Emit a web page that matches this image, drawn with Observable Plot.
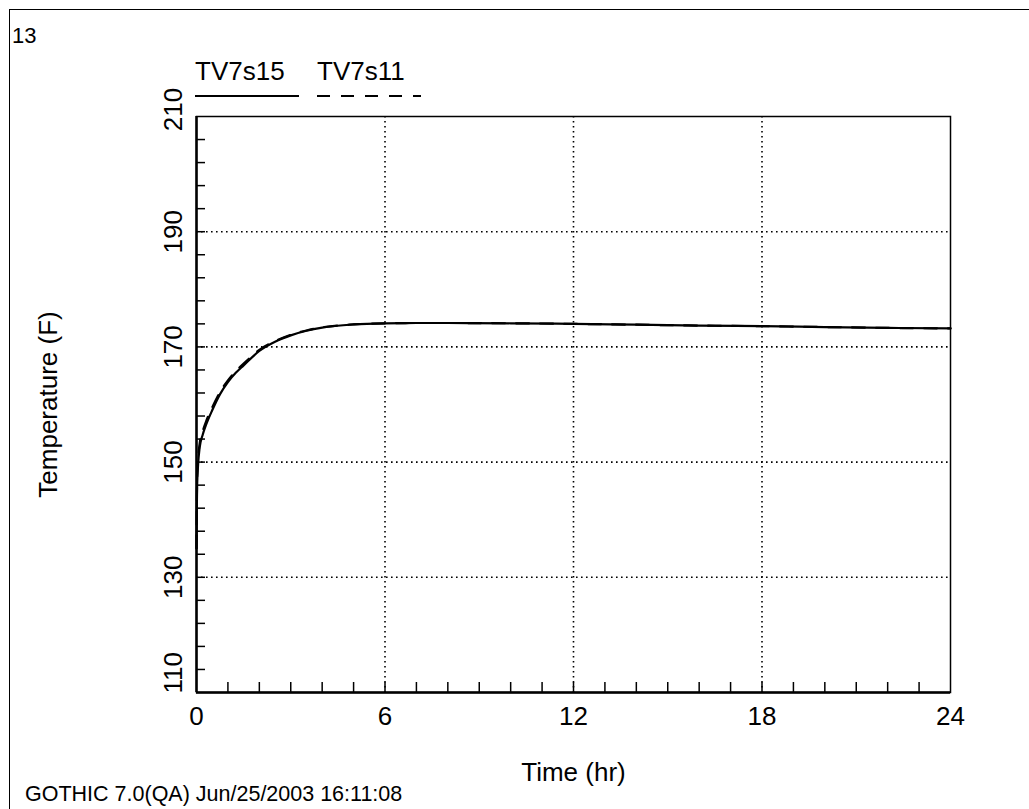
<!DOCTYPE html>
<html>
<head>
<meta charset="utf-8">
<script src="https://cdn.jsdelivr.net/npm/d3@7"></script>
<script src="https://cdn.jsdelivr.net/npm/@observablehq/plot@0.6"></script>
<style>
  html, body { margin: 0; padding: 0; background: #fff; overflow: hidden; }
  #wrap { position: relative; width: 1029px; height: 809px; overflow: hidden; font-family: "Liberation Sans", Arial, sans-serif; color: #000; }
  #chart { position: absolute; left: 0; top: 0; }
  #frame { position: absolute; left: 9px; top: 9px; width: 1040px; height: 820px; border-left: 1.5px solid #000; border-top: 1.5px solid #000; z-index: 2; }
  .ov { position: absolute; z-index: 3; white-space: nowrap; line-height: 1; }
  #legend { position: absolute; left: 0; top: 0; z-index: 3; }
</style>
</head>
<body>
<div id="wrap">
  <div id="chart"></div>
  <div id="frame"></div>
  <div class="ov" id="pagenum" style="left:12px; top:25px; font-size:22px;"></div>
  <svg id="legend" width="1029" height="120"></svg>
  <div class="ov" id="footer" style="left:25px; top:784px; font-size:21.5px;"></div>
</div>
<script>
// ---- data ----
const pageLabel = "13";
const footerText = "GOTHIC 7.0(QA) Jun/25/2003 16:11:08";
const xLabel = "Time (hr)";
const yLabel = "Temperature (F)";
const seriesNames = ["TV7s15", "TV7s11"];

const timeHr = [0, 0.01, 0.02, 0.05, 0.1, 0.2, 0.3, 0.5, 0.75, 1.0, 1.25, 1.5, 2.0, 2.5, 3.0, 3.5, 4.0, 5.0, 6.0, 7.0, 8.0, 10.0, 12.0, 14.0, 16.0, 18.0, 20.0, 22.0, 24.0];
const tv7s15 = [135, 142, 146, 149.5, 152.5, 154.8, 156.4, 159.0, 161.8, 163.9, 165.5, 166.8, 169.3, 170.9, 172.0, 172.8, 173.35, 173.9, 174.1, 174.15, 174.15, 174.1, 174.0, 173.85, 173.7, 173.6, 173.45, 173.3, 173.2];
const tv7s11 = [135, 143, 147, 150.4, 153.2, 155.4, 157.0, 159.5, 162.2, 164.2, 165.8, 167.1, 169.5, 171.0, 172.1, 172.85, 173.4, 173.9, 174.1, 174.15, 174.15, 174.1, 174.0, 173.85, 173.7, 173.6, 173.45, 173.3, 173.2];

const xMajorTicks = [0, 6, 12, 18, 24];
const xMinorTicks = d3.range(1, 24, 1);
const xGrid = [6, 12, 18];
const yMajorTicks = [110, 130, 150, 170, 190, 210];
const yMinorTicks = d3.range(114, 210, 4);
const yGrid = [130, 150, 170, 190];

// ---- build tables ----
const rows = timeHr.map((t, i) => ({t, v: tv7s15[i], s: seriesNames[0]}));
const rows2 = timeHr.map((t, i) => ({t, v: tv7s11[i], s: seriesNames[1]}));

const font = "Liberation Sans, Arial, sans-serif";
const dotted = {stroke: "#000", strokeWidth: 1.6, strokeDasharray: "1.6,3.4"};
const FS = 26;

const plot = Plot.plot({
  width: 1029,
  height: 809,
  marginLeft: 196,
  marginRight: 79,
  marginTop: 116,
  marginBottom: 117,
  style: {fontFamily: font, background: "transparent", color: "#000"},
  x: {domain: [0, 24], label: null},
  y: {domain: [110, 210], label: null},
  marks: [
    Plot.ruleX(xGrid, dotted),
    Plot.ruleY(yGrid, dotted),
    Plot.frame({stroke: "#000", strokeWidth: 1.5}),
    Plot.axisX({ticks: xMinorTicks, tickSize: -10, tickFormat: () => "", label: null, strokeWidth: 1.5}),
    Plot.axisY({ticks: yMinorTicks, tickSize: -9, tickFormat: () => "", label: null, strokeWidth: 1.5}),
    Plot.axisX({ticks: xMajorTicks, tickSize: 0, tickPadding: 14, fontSize: FS, label: null, tickFormat: d => String(d)}),
    Plot.text(yMajorTicks.filter(d => d !== 110 && d !== 210), {y: d => d, frameAnchor: "left", dx: -23, rotate: -90, text: d => String(d), fontSize: FS, textAnchor: "middle", lineAnchor: "middle"}),
    Plot.text([210], {y: d => d, frameAnchor: "left", dx: -23, dy: -7, rotate: -90, text: d => String(d), fontSize: FS, textAnchor: "middle", lineAnchor: "middle"}),
    Plot.text([110], {y: d => d, frameAnchor: "left", dx: -23, dy: 1, rotate: -90, text: d => String(d), fontSize: FS, textAnchor: "start", lineAnchor: "middle"}),
    Plot.text([xLabel], {frameAnchor: "bottom", dy: 80, fontSize: FS, textAnchor: "middle", lineAnchor: "middle"}),
    Plot.text([yLabel], {frameAnchor: "left", dx: -148, rotate: -90, fontSize: FS, textAnchor: "middle", lineAnchor: "middle"}),
    Plot.ruleX([0], {stroke: "#000", strokeWidth: 2.5}),
    Plot.ruleY([110], {stroke: "#000", strokeWidth: 2.5}),
    Plot.line(rows2, {x: "t", y: "v", stroke: "#000", strokeWidth: 2.2, strokeDasharray: "13,11", curve: "monotone-x"}),
    Plot.line(rows, {x: "t", y: "v", stroke: "#000", strokeWidth: 2.2, curve: "monotone-x"})
  ]
});
document.getElementById("chart").appendChild(plot);

document.getElementById("pagenum").textContent = pageLabel;
document.getElementById("footer").textContent = footerText;

// legend
const lg = d3.select("#legend");
const legendItems = [
  {name: seriesNames[0], x: 195, dash: null},
  {name: seriesNames[1], x: 317, dash: "13,11"}
];
legendItems.forEach(it => {
  lg.append("text").attr("x", it.x).attr("y", 80).attr("font-size", FS)
    .attr("font-family", font).text(it.name);
  lg.append("line").attr("x1", it.x).attr("x2", it.x + 104).attr("y1", 96).attr("y2", 96)
    .attr("stroke", "#000").attr("stroke-width", 2)
    .attr("stroke-dasharray", it.dash);
});
</script>
</body>
</html>
